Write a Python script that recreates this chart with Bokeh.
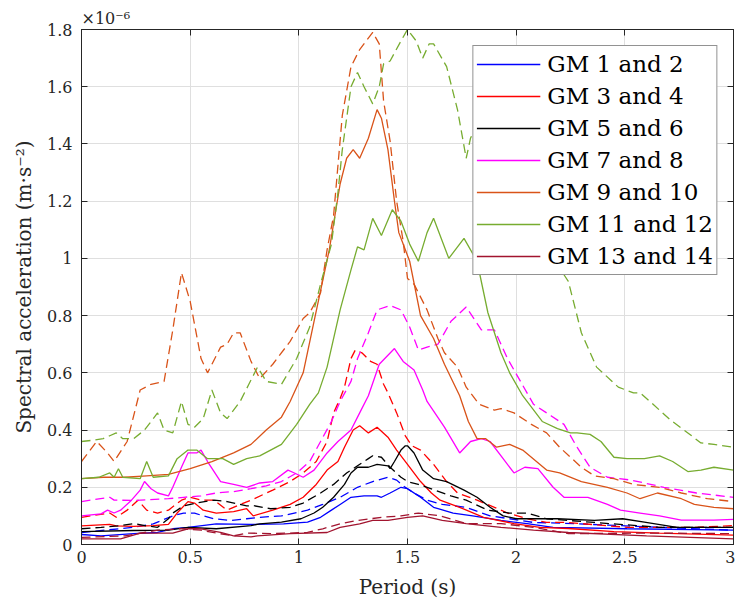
from bokeh.plotting import figure
from bokeh.models import LinearAxis, FixedTicker, Legend, LegendItem, Title, Range1d
from bokeh.embed import file_html
from bokeh.resources import INLINE

# Spectral acceleration values are in units of 1e-6 m/s^2 (axis shows x10^-6)
labels = ["GM 1 and 2", "GM 3 and 4", "GM 5 and 6", "GM 7 and 8",
          "GM 9 and 10", "GM 11 and 12", "GM 13 and 14"]
colors = ["#0000FF", "#FF0000", "#000000", "#FF00FF", "#D95319", "#77AC30", "#A2142F"]

x_ticks = [0, 0.5, 1, 1.5, 2, 2.5, 3]
x_tick_labels = ["0", "0.5", "1", "1.5", "2", "2.5", "3"]
y_ticks = [0, 0.2, 0.4, 0.6, 0.8, 1.0, 1.2, 1.4, 1.6, 1.8]
y_tick_labels = ["0", "0.2", "0.4", "0.6", "0.8", "1", "1.2", "1.4", "1.6", "1.8"]

# GM 1 and 2
gm1_x = [0, 0.09, 0.24, 0.35, 0.42, 0.49, 0.62, 0.78, 0.93, 1.04, 1.10, 1.15, 1.19, 1.24, 1.30, 1.36, 1.38, 1.42, 1.47, 1.50, 1.51, 1.56, 1.62, 1.71, 1.80, 1.93, 2.05, 2.17, 2.51, 3.0]
gm1_y = [0.035, 0.03, 0.038, 0.042, 0.055, 0.06, 0.072, 0.07, 0.072, 0.078, 0.095, 0.12, 0.14, 0.165, 0.17, 0.17, 0.165, 0.18, 0.20, 0.195, 0.19, 0.165, 0.13, 0.11, 0.10, 0.084, 0.073, 0.06, 0.055, 0.05]
gm2_x = [0, 0.24, 0.33, 0.42, 0.47, 0.52, 0.56, 0.61, 0.69, 0.76, 0.82, 0.92, 1.04, 1.11, 1.19, 1.27, 1.34, 1.41, 1.45, 1.48, 1.53, 1.59, 1.66, 1.77, 1.88, 1.97, 2.08, 2.20, 2.66, 3.0]
gm2_y = [0.042, 0.06, 0.072, 0.10, 0.11, 0.11, 0.10, 0.09, 0.084, 0.09, 0.095, 0.10, 0.12, 0.14, 0.165, 0.20, 0.22, 0.235, 0.225, 0.205, 0.18, 0.155, 0.14, 0.13, 0.10, 0.09, 0.077, 0.075, 0.06, 0.05]

# GM 3 and 4
gm3_x = [0, 0.13, 0.16, 0.24, 0.33, 0.40, 0.44, 0.49, 0.52, 0.56, 0.62, 0.70, 0.76, 0.79, 0.88, 0.96, 1.02, 1.08, 1.13, 1.18, 1.21, 1.25, 1.28, 1.32, 1.36, 1.41, 1.45, 1.50, 1.56, 1.61, 1.65, 1.74, 1.85, 1.99, 2.11, 2.24, 2.45, 2.66, 3.0]
gm3_y = [0.065, 0.07, 0.065, 0.063, 0.066, 0.07, 0.11, 0.15, 0.145, 0.12, 0.11, 0.115, 0.125, 0.10, 0.12, 0.14, 0.165, 0.21, 0.26, 0.29, 0.34, 0.40, 0.415, 0.39, 0.41, 0.375, 0.33, 0.28, 0.22, 0.18, 0.155, 0.13, 0.095, 0.073, 0.06, 0.056, 0.045, 0.04, 0.033]
gm4_x = [0, 0.13, 0.16, 0.21, 0.26, 0.30, 0.35, 0.40, 0.46, 0.50, 0.55, 0.61, 0.67, 0.73, 0.78, 0.88, 0.96, 1.02, 1.08, 1.13, 1.16, 1.19, 1.21, 1.24, 1.26, 1.29, 1.33, 1.36, 1.39, 1.41, 1.45, 1.49, 1.52, 1.56, 1.62, 1.68, 1.73, 1.82, 1.90, 1.96, 2.05, 2.14, 2.24, 2.30, 2.51, 2.82, 3.0]
gm4_y = [0.095, 0.11, 0.095, 0.12, 0.155, 0.12, 0.11, 0.12, 0.155, 0.165, 0.155, 0.155, 0.12, 0.14, 0.155, 0.19, 0.22, 0.25, 0.29, 0.36, 0.46, 0.51, 0.55, 0.65, 0.68, 0.67, 0.64, 0.63, 0.56, 0.53, 0.46, 0.38, 0.345, 0.33, 0.28, 0.22, 0.18, 0.155, 0.13, 0.11, 0.09, 0.077, 0.077, 0.073, 0.06, 0.06, 0.066]

# GM 5 and 6
gm5_x = [0, 0.24, 0.40, 0.49, 0.62, 0.78, 0.82, 0.92, 1.01, 1.07, 1.11, 1.16, 1.21, 1.24, 1.27, 1.32, 1.36, 1.41, 1.42, 1.44, 1.47, 1.49, 1.50, 1.53, 1.57, 1.62, 1.68, 1.76, 1.82, 1.88, 1.94, 2.0, 2.08, 2.19, 2.36, 2.49, 2.59, 2.74, 3.0]
gm5_y = [0.045, 0.049, 0.05, 0.06, 0.055, 0.066, 0.072, 0.078, 0.09, 0.11, 0.13, 0.165, 0.21, 0.25, 0.27, 0.27, 0.28, 0.275, 0.265, 0.29, 0.33, 0.345, 0.345, 0.32, 0.26, 0.23, 0.22, 0.19, 0.165, 0.13, 0.10, 0.09, 0.09, 0.09, 0.084, 0.09, 0.078, 0.06, 0.06]
gm6_x = [0, 0.09, 0.18, 0.24, 0.30, 0.35, 0.40, 0.42, 0.47, 0.53, 0.61, 0.67, 0.76, 0.79, 0.87, 0.96, 1.02, 1.10, 1.16, 1.22, 1.27, 1.32, 1.34, 1.38, 1.42, 1.47, 1.50, 1.55, 1.59, 1.70, 1.77, 1.87, 1.97, 2.05, 2.14, 2.36, 2.66, 3.0]
gm6_y = [0.055, 0.06, 0.066, 0.073, 0.065, 0.06, 0.09, 0.11, 0.135, 0.145, 0.155, 0.15, 0.135, 0.136, 0.125, 0.13, 0.145, 0.18, 0.21, 0.25, 0.275, 0.30, 0.31, 0.305, 0.27, 0.235, 0.22, 0.21, 0.20, 0.17, 0.155, 0.12, 0.11, 0.11, 0.09, 0.077, 0.06, 0.06]

# GM 7 and 8
gm7_x = [0, 0.09, 0.12, 0.15, 0.18, 0.23, 0.27, 0.29, 0.32, 0.35, 0.40, 0.42, 0.46, 0.49, 0.53, 0.55, 0.58, 0.64, 0.70, 0.76, 0.82, 0.88, 0.95, 0.98, 1.02, 1.07, 1.13, 1.18, 1.24, 1.28, 1.32, 1.37, 1.44, 1.48, 1.53, 1.57, 1.59, 1.67, 1.74, 1.79, 1.84, 1.88, 1.94, 1.99, 2.04, 2.10, 2.17, 2.22, 2.33, 2.42, 2.48, 2.57, 2.66, 2.76, 2.91, 3.0]
gm7_y = [0.10, 0.107, 0.12, 0.11, 0.12, 0.155, 0.19, 0.22, 0.195, 0.18, 0.17, 0.20, 0.27, 0.32, 0.32, 0.33, 0.29, 0.22, 0.21, 0.20, 0.215, 0.22, 0.26, 0.25, 0.235, 0.26, 0.32, 0.36, 0.40, 0.46, 0.52, 0.63, 0.685, 0.64, 0.61, 0.54, 0.50, 0.41, 0.32, 0.36, 0.37, 0.36, 0.30, 0.25, 0.27, 0.265, 0.20, 0.165, 0.165, 0.14, 0.12, 0.11, 0.10, 0.085, 0.085, 0.088]
gm8_x = [0, 0.13, 0.15, 0.24, 0.40, 0.47, 0.55, 0.62, 0.70, 0.78, 0.85, 0.92, 0.99, 1.05, 1.10, 1.15, 1.19, 1.24, 1.27, 1.32, 1.36, 1.42, 1.47, 1.51, 1.55, 1.59, 1.64, 1.70, 1.77, 1.84, 1.90, 1.96, 2.02, 2.08, 2.14, 2.16, 2.22, 2.28, 2.34, 2.42, 2.53, 2.68, 2.83, 3.0]
gm8_y = [0.15, 0.165, 0.155, 0.154, 0.16, 0.165, 0.17, 0.18, 0.185, 0.195, 0.205, 0.22, 0.25, 0.29, 0.36, 0.43, 0.50, 0.57, 0.65, 0.74, 0.82, 0.835, 0.82, 0.76, 0.68, 0.69, 0.70, 0.78, 0.83, 0.75, 0.75, 0.65, 0.57, 0.49, 0.46, 0.45, 0.42, 0.34, 0.27, 0.235, 0.225, 0.20, 0.18, 0.165]

# GM 9 and 10
gm9_x = [0, 0.1, 0.2, 0.3, 0.4, 0.5, 0.6, 0.7, 0.78, 0.85, 0.92, 0.96, 1.02, 1.07, 1.14, 1.19, 1.22, 1.25, 1.28, 1.32, 1.36, 1.38, 1.41, 1.44, 1.46, 1.48, 1.51, 1.56, 1.62, 1.67, 1.74, 1.78, 1.82, 1.86, 1.91, 1.97, 2.03, 2.14, 2.2, 2.3, 2.42, 2.51, 2.57, 2.65, 2.76, 2.82, 2.91, 3.0]
gm9_y = [0.23, 0.235, 0.235, 0.24, 0.245, 0.265, 0.29, 0.32, 0.35, 0.40, 0.445, 0.50, 0.60, 0.78, 1.03, 1.26, 1.35, 1.38, 1.35, 1.42, 1.52, 1.49, 1.38, 1.20, 1.09, 1.05, 0.99, 0.80, 0.72, 0.63, 0.52, 0.43, 0.37, 0.37, 0.34, 0.35, 0.33, 0.26, 0.25, 0.22, 0.20, 0.18, 0.16, 0.18, 0.16, 0.14, 0.13, 0.125]
gm10_x = [0, 0.07, 0.12, 0.15, 0.21, 0.27, 0.32, 0.38, 0.42, 0.46, 0.50, 0.55, 0.58, 0.64, 0.67, 0.70, 0.73, 0.78, 0.82, 0.88, 0.96, 1.02, 1.05, 1.10, 1.13, 1.16, 1.20, 1.24, 1.28, 1.34, 1.37, 1.39, 1.42, 1.45, 1.48, 1.50, 1.53, 1.59, 1.64, 1.67, 1.73, 1.77, 1.83, 1.90, 1.93, 1.99, 2.07, 2.14, 2.20, 2.30, 2.36, 2.45, 2.54, 2.66, 2.76, 2.88, 3.0]
gm10_y = [0.29, 0.36, 0.32, 0.29, 0.36, 0.54, 0.56, 0.57, 0.75, 0.95, 0.85, 0.65, 0.60, 0.69, 0.70, 0.74, 0.74, 0.64, 0.58, 0.63, 0.71, 0.79, 0.81, 0.88, 1.03, 1.15, 1.50, 1.67, 1.73, 1.79, 1.75, 1.55, 1.41, 1.20, 1.06, 0.93, 0.91, 0.82, 0.72, 0.67, 0.62, 0.55, 0.49, 0.47, 0.475, 0.46, 0.42, 0.39, 0.34, 0.27, 0.24, 0.23, 0.21, 0.20, 0.18, 0.16, 0.15]

# GM 11 and 12
gm11_x = [0, 0.08, 0.13, 0.15, 0.17, 0.19, 0.27, 0.30, 0.33, 0.40, 0.44, 0.49, 0.53, 0.58, 0.65, 0.70, 0.76, 0.82, 0.92, 0.99, 1.05, 1.09, 1.13, 1.19, 1.24, 1.27, 1.30, 1.34, 1.38, 1.43, 1.47, 1.51, 1.55, 1.59, 1.62, 1.69, 1.76, 1.82, 1.87, 1.93, 1.97, 2.03, 2.12, 2.19, 2.25, 2.28, 2.34, 2.39, 2.45, 2.51, 2.59, 2.66, 2.72, 2.79, 2.85, 2.91, 3.0]
gm11_y = [0.23, 0.235, 0.25, 0.235, 0.265, 0.235, 0.23, 0.29, 0.235, 0.24, 0.30, 0.33, 0.33, 0.30, 0.30, 0.28, 0.30, 0.31, 0.35, 0.42, 0.49, 0.53, 0.62, 0.82, 0.96, 1.04, 1.03, 1.14, 1.08, 1.17, 1.13, 1.05, 0.99, 1.09, 1.14, 1.00, 1.07, 0.99, 0.81, 0.67, 0.60, 0.52, 0.43, 0.405, 0.39, 0.39, 0.385, 0.36, 0.305, 0.30, 0.30, 0.31, 0.29, 0.255, 0.26, 0.27, 0.26]
gm12_x = [0, 0.06, 0.10, 0.13, 0.16, 0.19, 0.24, 0.29, 0.35, 0.38, 0.42, 0.46, 0.49, 0.52, 0.56, 0.60, 0.64, 0.67, 0.73, 0.77, 0.81, 0.85, 0.92, 0.99, 1.05, 1.10, 1.15, 1.18, 1.20, 1.24, 1.27, 1.30, 1.34, 1.37, 1.39, 1.42, 1.47, 1.50, 1.54, 1.57, 1.60, 1.62, 1.68, 1.73, 1.77, 1.79, 1.82, 1.90, 2.00, 2.10, 2.24, 2.30, 2.37, 2.47, 2.54, 2.57, 2.63, 2.71, 2.79, 2.85, 2.91, 3.0]
gm12_y = [0.36, 0.365, 0.37, 0.38, 0.39, 0.37, 0.37, 0.40, 0.46, 0.40, 0.39, 0.50, 0.42, 0.41, 0.44, 0.54, 0.46, 0.44, 0.50, 0.56, 0.62, 0.57, 0.56, 0.65, 0.76, 0.91, 1.05, 1.23, 1.38, 1.60, 1.65, 1.60, 1.54, 1.60, 1.68, 1.69, 1.76, 1.80, 1.76, 1.70, 1.75, 1.75, 1.67, 1.52, 1.35, 1.42, 1.47, 1.35, 1.20, 1.08, 0.92, 0.74, 0.62, 0.55, 0.53, 0.53, 0.49, 0.435, 0.39, 0.355, 0.35, 0.34]

# GM 13 and 14
gm13_x = [0, 0.18, 0.27, 0.42, 0.49, 0.55, 0.64, 0.70, 0.78, 0.81, 0.96, 1.13, 1.19, 1.28, 1.34, 1.41, 1.50, 1.57, 1.66, 1.77, 1.93, 2.08, 2.24, 2.6, 3.0]
gm13_y = [0.02, 0.02, 0.04, 0.04, 0.055, 0.055, 0.042, 0.03, 0.027, 0.03, 0.038, 0.042, 0.06, 0.072, 0.084, 0.084, 0.095, 0.10, 0.084, 0.073, 0.06, 0.05, 0.042, 0.03, 0.02]
gm14_x = [0, 0.20, 0.35, 0.46, 0.55, 0.62, 0.70, 0.76, 0.88, 1.04, 1.11, 1.19, 1.27, 1.38, 1.47, 1.55, 1.65, 1.77, 1.93, 2.08, 2.24, 2.6, 3.0]
gm14_y = [0.025, 0.03, 0.05, 0.055, 0.05, 0.04, 0.03, 0.04, 0.038, 0.042, 0.055, 0.072, 0.084, 0.095, 0.10, 0.11, 0.10, 0.073, 0.073, 0.06, 0.038, 0.04, 0.038]

solid_series = [(gm1_x, gm1_y), (gm3_x, gm3_y), (gm5_x, gm5_y), (gm7_x, gm7_y),
                (gm9_x, gm9_y), (gm11_x, gm11_y), (gm13_x, gm13_y)]
dashed_series = [(gm2_x, gm2_y), (gm4_x, gm4_y), (gm6_x, gm6_y), (gm8_x, gm8_y),
                 (gm10_x, gm10_y), (gm12_x, gm12_y), (gm14_x, gm14_y)]

FONT = "DejaVu Serif"
TXT = "#262626"
AX = "#262626"

p = figure(width=735, height=608, output_backend="svg", toolbar_location=None,
           x_range=Range1d(0, 3), y_range=Range1d(0, 1.8),
           min_border_left=81, min_border_right=2, min_border_top=29, min_border_bottom=64)
p.background_fill_color = "white"
p.border_fill_color = "white"
p.outline_line_color = AX
p.outline_line_width = 1

p.xaxis.ticker = FixedTicker(ticks=x_ticks)
p.yaxis.ticker = FixedTicker(ticks=y_ticks)
p.xaxis.major_label_overrides = dict(zip(x_ticks, x_tick_labels))
p.yaxis.major_label_overrides = dict(zip(y_ticks, y_tick_labels))
for ax in (p.xaxis, p.yaxis):
    ax.major_tick_in = 6
    ax.major_tick_out = 0
    ax.minor_tick_line_color = None
    ax.axis_line_color = AX
    ax.major_tick_line_color = AX
    ax.major_label_text_font = FONT
    ax.major_label_text_font_size = "16px"
    ax.major_label_text_color = TXT
    ax.axis_label_text_font = FONT
    ax.axis_label_text_font_size = "20px"
    ax.axis_label_text_font_style = "normal"
    ax.axis_label_text_color = TXT
p.xaxis.axis_label = "Period (s)"
p.yaxis.axis_label = "Spectral acceleration (m\u00b7s\u207b\u00b2)"
p.xaxis.major_label_standoff = 6
p.xaxis.axis_label_standoff = 9
p.yaxis.major_label_standoff = 9
p.yaxis.axis_label_standoff = 8

for loc, tk in (("above", x_ticks), ("right", y_ticks)):
    extra = LinearAxis(ticker=FixedTicker(ticks=tk), major_tick_in=6, major_tick_out=0,
                       minor_tick_line_color=None, axis_line_color=AX,
                       major_tick_line_color=AX, major_label_text_color=None,
                       major_label_text_alpha=0, major_label_standoff=0, axis_label=None)
    p.add_layout(extra, loc)

p.xgrid.ticker = FixedTicker(ticks=x_ticks)
p.ygrid.ticker = FixedTicker(ticks=y_ticks)
p.grid.grid_line_color = "#dfdfdf"
p.grid.grid_line_width = 1

items = []
for i in range(7):
    sx, sy = solid_series[i]
    dx, dy = dashed_series[i]
    r = p.line(sx, sy, line_color=colors[i], line_width=1.3)
    p.line(dx, dy, line_color=colors[i], line_width=1.3, line_dash="9 5")
    items.append(LegendItem(label=labels[i], renderers=[r]))

legend = Legend(items=items, location="top_right")
legend.label_text_font = FONT
legend.label_text_font_size = "23px"
legend.label_text_color = "black"
legend.glyph_width = 64
legend.glyph_height = 30
legend.label_height = 30
legend.label_standoff = 7
legend.spacing = 2
legend.padding = 3
legend.margin = 16
legend.border_line_color = "#262626"
legend.border_line_width = 1
legend.background_fill_color = "white"
legend.background_fill_alpha = 1
p.add_layout(legend)

title = Title(text="\u00d710\u207b\u2076", align="left", text_font=FONT,
              text_font_size="16px", text_font_style="normal", text_color=TXT,
              offset=0, standoff=4)
p.add_layout(title, "above")

open("out.html", "w").write(file_html(p, INLINE))
